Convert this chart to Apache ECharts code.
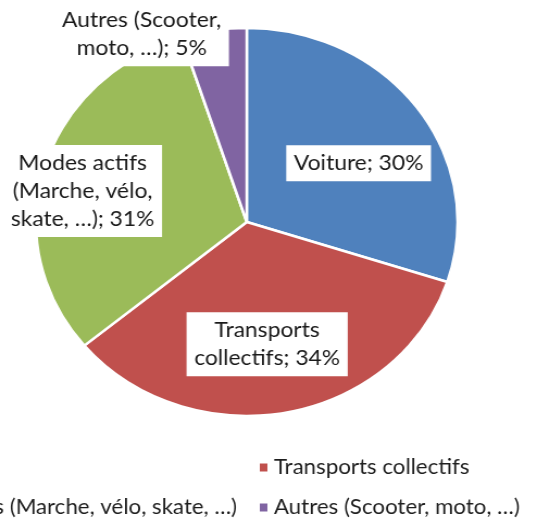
<!DOCTYPE html>
<html>
<head>
<meta charset="utf-8">
<script src="https://cdn.jsdelivr.net/npm/echarts@6/dist/echarts.min.js"></script>
<style>
  html, body { margin: 0; padding: 0; background: #ffffff; overflow: hidden; }
  #main { position: absolute; left: 0; top: 0; width: 494px; height: 520px;
          transform: scaleX(1.08704); transform-origin: 0 0; }
</style>
</head>
<body>
<div id="main"></div>
<script>
// ---- data ----
const categories = ['Voiture', 'Transports collectifs', 'Modes actifs (Marche, vélo, skate, …)', 'Autres (Scooter, moto, …)'];
const shares = [30, 34, 31, 5];
const labelNames = ['Voiture', 'Transports\ncollectifs', 'Modes actifs\n(Marche, vélo,\nskate, …)', 'Autres (Scooter,\nmoto, …)'];

// ---- style / layout config ----
const colors = ['#4F81BD', '#C0504D', '#9BBB59', '#8064A2'];
const labelNudge = [[22, 0], [0, 24], [-55, -3], [-81, -89]];
const FONT = 'Lato';

const chart = echarts.init(document.getElementById('main'), null, { renderer: 'canvas' });
const legendText = { fontFamily: FONT, fontSize: 20.5, lineHeight: 20, color: '#1e1e1e' };
chart.setOption({
  animation: false,
  color: colors,
  legend: [
    {
      orient: 'vertical', align: 'left', left: 237, top: 457, padding: 0,
      itemWidth: 9, itemHeight: 10, itemGap: 19, icon: 'rect',
      data: [categories[1], categories[3]],
      textStyle: legendText
    },
    {
      orient: 'vertical', align: 'left', right: 276, top: 457, padding: 0,
      itemWidth: 9, itemHeight: 10, itemGap: 19, icon: 'rect',
      data: [categories[0], categories[2]],
      textStyle: legendText
    }
  ],
  series: [{
    type: 'pie',
    center: [227, 222],
    radius: [0, 194],
    startAngle: 90,
    clockwise: true,
    avoidLabelOverlap: false,
    silent: true,
    itemStyle: { borderColor: '#ffffff', borderWidth: 2.5 },
    label: {
      show: true,
      position: 'inside',
      fontFamily: FONT,
      fontSize: 21,
      lineHeight: 28,
      color: '#1a1a1a',
      backgroundColor: '#ffffff',
      padding: [4, 7],
      formatter: p => labelNames[p.dataIndex] + '; ' + Math.round(p.percent) + '%'
    },
    labelLine: { show: false },
    labelLayout: p => ({ dx: labelNudge[p.dataIndex][0], dy: labelNudge[p.dataIndex][1] }),
    data: categories.map((c, i) => ({ name: c, value: shares[i] }))
  }]
});
</script>
</body>
</html>
